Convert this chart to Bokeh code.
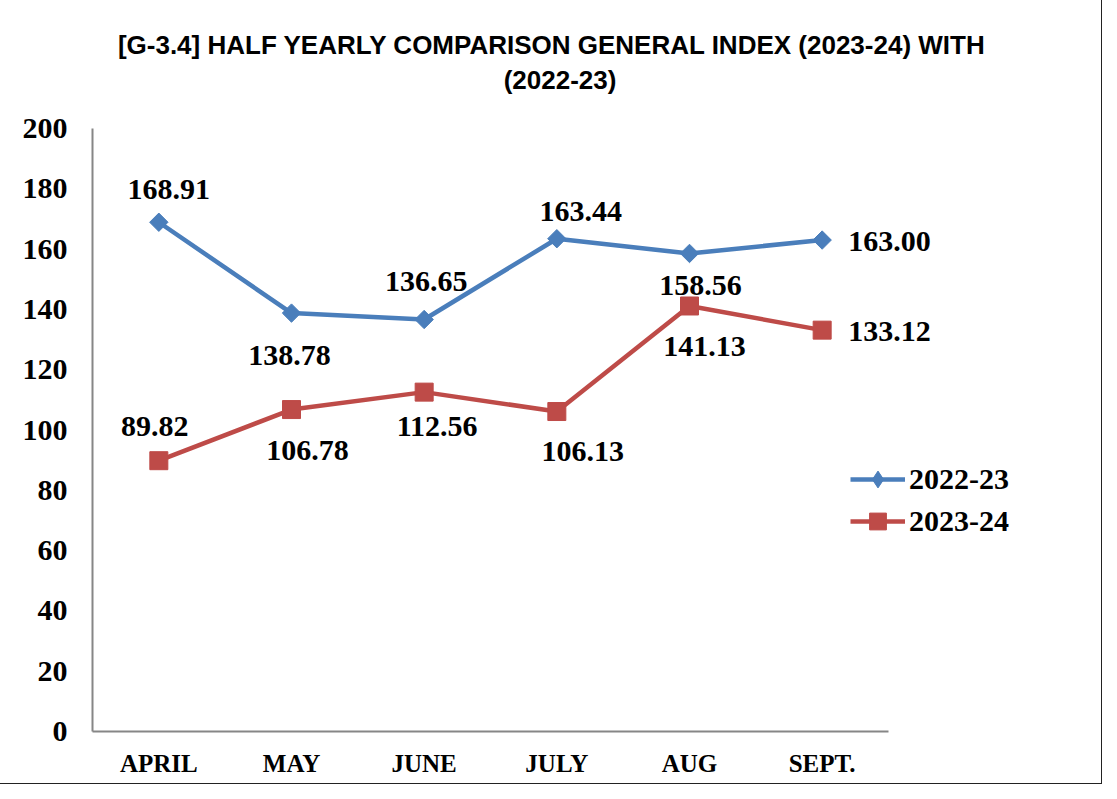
from bokeh.plotting import figure
from bokeh.models import (ColumnDataSource, FixedTicker, Legend, LegendItem,
                          LabelSet, Label, Range1d)
from bokeh.embed import file_html
from bokeh.resources import INLINE
import math

# ---- data ----
months = ["APRIL", "MAY", "JUNE", "JULY", "AUG", "SEPT."]
idx_2022_23 = [168.91, 138.78, 136.65, 163.44, 158.56, 163.00]
idx_2023_24 = [89.82, 106.78, 112.56, 106.13, 141.13, 133.12]
series_names = ["2022-23", "2023-24"]
y_ticks = [0, 20, 40, 60, 80, 100, 120, 140, 160, 180, 200]
title_line1 = "[G-3.4] HALF YEARLY COMPARISON GENERAL INDEX (2023-24) WITH"
title_line2 = "(2022-23)"

# label placement (style): pixel offsets of each data label from its point
off_a_dx = [10, -2, 2, 24, 11, 26]
off_a_dy = [-33, 42, -38, -27, 32, 1]
off_b_dx = [-4, 16, 13, 26, 15, 26]
off_b_dy = [-34, 41, 34, 40, 41, 1]

BLUE = "#4A7EBB"
RED = "#BE4B48"
AXIS = "#868686"
SERIF = "Liberation Serif"
SANS = "Liberation Sans"

# ---- layout (pixels) ----
FIG_W, FIG_H = 1101, 783
LEFT = 92                 # frame left edge
AXIS_BOTTOM = 731         # y pixel of the value 0 (frame bottom)
PLOT_TOP = 128            # y pixel of the value 200
CAT_PX = 796              # width of the six category slots
FRAME_W = FIG_W - LEFT - 1
FRAME_H = AXIS_BOTTOM
Y_MAX = 200
y_end = Y_MAX * FRAME_H / (AXIS_BOTTOM - PLOT_TOP)

xpos = [i + 0.5 for i in range(len(months))]
x_end = len(months) * FRAME_W / CAT_PX
px_x = CAT_PX / len(months)
px_y = (AXIS_BOTTOM - PLOT_TOP) / Y_MAX

p = figure(x_range=Range1d(0, x_end), y_range=Range1d(0, y_end),
           frame_width=FRAME_W, frame_height=FRAME_H,
           min_border_left=LEFT, min_border_right=1, min_border_top=0,
           min_border_bottom=FIG_H - FRAME_H,
           output_backend="svg", toolbar_location=None)
p.styles = {"outline": "1.5px solid #222"}
p.outline_line_color = None
p.xgrid.visible = False
p.ygrid.visible = False

for ax in (p.xaxis[0], p.yaxis[0]):
    ax.axis_line_color = AXIS
    ax.axis_line_width = 2
    ax.major_tick_line_color = None
    ax.minor_tick_line_color = None
    ax.major_tick_out = 0
    ax.major_tick_in = 0
    ax.minor_tick_out = 0
    ax.major_label_text_font = SERIF
    ax.major_label_text_font_style = "bold"
    ax.major_label_text_color = "black"

p.yaxis.ticker = FixedTicker(ticks=y_ticks)
p.yaxis.bounds = (0, Y_MAX)
p.yaxis.major_label_text_font_size = "30px"
p.yaxis.major_label_standoff = 25
p.xaxis.ticker = FixedTicker(ticks=xpos)
p.xaxis.major_label_overrides = {x: m for x, m in zip(xpos, months)}
p.xaxis.bounds = (0, len(months))
p.xaxis.major_label_text_font_size = "25px"
p.xaxis.major_label_standoff = 18

src_a = ColumnDataSource(dict(x=xpos, y=idx_2022_23))
src_b = ColumnDataSource(dict(x=xpos, y=idx_2023_24))

la = p.line("x", "y", source=src_a, line_color=BLUE, line_width=4.5)
# tiny diamond under the rotated squares: it only supplies the legend's diamond symbol
da = p.scatter("x", "y", source=src_a, marker="diamond", size=1,
               fill_color=BLUE, line_color=BLUE)
ma = p.scatter("x", "y", source=src_a, marker="square", angle=math.pi / 4, size=13,
               fill_color=BLUE, line_color=BLUE)
lb = p.line("x", "y", source=src_b, line_color=RED, line_width=4.5)
mb = p.scatter("x", "y", source=src_b, marker="square", size=18,
               fill_color=RED, line_color=RED)

# data labels
def add_labels(vals, dxs, dys):
    txt = ["%.2f" % v for v in vals]
    c = dict(x=[], y=[], t=[], dx=[], dy=[])
    r = dict(x=[], y=[], t=[], dx=[], dy=[])
    for i in range(len(months)):
        d = r if i == len(months) - 1 else c
        d["x"].append(xpos[i]); d["y"].append(vals[i]); d["t"].append(txt[i])
        d["dx"].append(dxs[i]); d["dy"].append(-dys[i])
    for d, align in ((c, "center"), (r, "left")):
        ls = LabelSet(x="x", y="y", text="t", x_offset="dx", y_offset="dy",
                      source=ColumnDataSource(d), text_align=align,
                      text_baseline="middle", text_font=SERIF, text_font_style="bold",
                      text_font_size="30px", text_color="black")
        p.add_layout(ls)

add_labels(idx_2022_23, off_a_dx, off_a_dy)
add_labels(idx_2023_24, off_b_dx, off_b_dy)

legend = Legend(items=[LegendItem(label=series_names[0], renderers=[la, da]),
                       LegendItem(label=series_names[1], renderers=[lb, mb])],
                location=(758, 189), padding=0, spacing=0, glyph_width=55, glyph_height=42,
                label_standoff=4, label_text_font=SERIF, label_text_font_style="bold",
                label_text_font_size="30px", label_text_color="black",
                border_line_color=None, background_fill_alpha=0)
p.add_layout(legend, "center")

# two-line title, centred where the reference puts it
for txt, cx, cy in ((title_line1, 551.5, 44), (title_line2, 559.5, 79)):
    p.add_layout(Label(x=(cx - LEFT) / px_x, y=(AXIS_BOTTOM - cy) / px_y, text=txt,
                       text_align="center", text_baseline="middle",
                       text_font=SANS, text_font_size="26px", text_font_style="bold",
                       text_color="black"))

open("out.html", "w").write(file_html(p, INLINE))
